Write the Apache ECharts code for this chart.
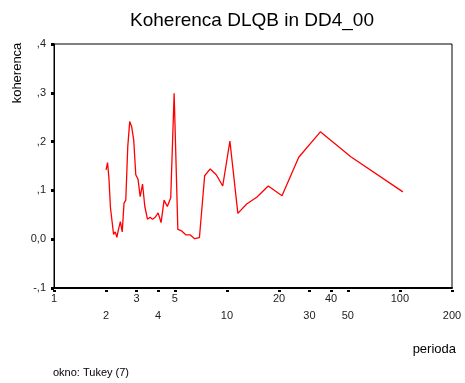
<!DOCTYPE html>
<html>
<head>
<meta charset="utf-8">
<script src="https://cdn.jsdelivr.net/npm/echarts@6/dist/echarts.min.js"></script>
<style>
html,body{margin:0;padding:0;background:#fff;}
#chart{width:465px;height:383px;}
</style>
</head>
<body>
<div id="chart"></div>
<script>
// Periods (x) and coherence values (y)
const periods = [104, 52, 34.67, 26, 20.8, 17.33, 14.86, 13, 11.56, 10.4, 9.45, 8.67, 8, 7.43, 6.93, 6.5, 6.12, 5.78, 5.47, 5.2, 4.95, 4.73, 4.52, 4.33, 4.16, 4, 3.85, 3.71, 3.59, 3.47, 3.35, 3.25, 3.15, 3.06, 2.97, 2.89, 2.81, 2.74, 2.67, 2.6, 2.54, 2.48, 2.42, 2.36, 2.31, 2.26, 2.21, 2.17, 2.12, 2.08, 2.04, 2.0];
const coherence = [0.097, 0.169, 0.220, 0.168, 0.089, 0.109, 0.086, 0.072, 0.053, 0.201, 0.109, 0.132, 0.144, 0.130, 0.003, 0.001, 0.009, 0.009, 0.017, 0.020, 0.299, 0.085, 0.067, 0.080, 0.034, 0.054, 0.045, 0.041, 0.045, 0.041, 0.067, 0.113, 0.087, 0.123, 0.132, 0.203, 0.231, 0.241, 0.190, 0.080, 0.074, 0.015, 0.036, 0.020, 0.004, 0.015, 0.010, 0.007, 0.065, 0.123, 0.157, 0.142];
const xTicks = [1, 2, 3, 4, 5, 10, 20, 30, 40, 50, 100, 200];
const xLabelsRow1 = [1, 3, 5, 20, 40, 100];
const xLabelsRow2 = [2, 4, 10, 30, 50, 200];

const titleText = 'Koherenca DLQB in DD4_00';
const yName = 'koherenca';
const xName = 'perioda';
const footnote = 'okno: Tukey (7)';

const FONT = 'Liberation Sans, Arial, sans-serif';

function yFmt(v) {
  const r = Math.round(v * 10);
  if (r === 0) return '0,0';
  return (r < 0 ? '-' : '') + ',' + Math.abs(r);
}
function xFmt(v) { return String(Math.round(v)); }

const chart = echarts.init(document.getElementById('chart'), null, {renderer: 'canvas'});
const data = periods.map((p, i) => [p, coherence[i]]);

chart.setOption({
  animation: false,
  backgroundColor: '#fff',
  grid: {left: 54, right: 13, top: 44, bottom: 95, show: true, borderColor: '#000', borderWidth: 1, containLabel: false},
  xAxis: [
    {
      type: 'log', logBase: 10, min: 1, max: 200, position: 'bottom',
      axisLine: {show: true, onZero: false, lineStyle: {color: '#000', width: 2}},
      axisTick: {show: false},
      splitLine: {show: false},
      axisLabel: {customValues: xLabelsRow1, formatter: xFmt, margin: 5, fontFamily: FONT, fontSize: 11, color: '#222', showMinLabel: true, showMaxLabel: true}
    },
    {
      type: 'log', logBase: 10, min: 1, max: 200, position: 'bottom', offset: 2,
      axisLine: {show: false, onZero: false},
      axisTick: {show: true, customValues: xTicks, length: 2, lineStyle: {color: '#000', width: 3}},
      splitLine: {show: false},
      axisLabel: {customValues: xLabelsRow2, formatter: xFmt, margin: 20, fontFamily: FONT, fontSize: 11, color: '#222', showMinLabel: true, showMaxLabel: true}
    }
  ],
  yAxis: {
    type: 'value', min: -0.1, max: 0.4, interval: 0.1,
    axisLine: {show: true, onZero: false, lineStyle: {color: '#000', width: 1}},
    axisTick: {show: true, length: 3, lineStyle: {color: '#000', width: 3}},
    splitLine: {show: false},
    axisLabel: {formatter: yFmt, margin: 8, fontFamily: FONT, fontSize: 11, color: '#222'}
  },
  series: [{
    type: 'line', data: data, xAxisIndex: 0,
    showSymbol: false, symbol: 'none',
    lineStyle: {color: '#ff0000', width: 1.3},
    itemStyle: {color: '#ff0000'}
  }],
  graphic: [
    {type: 'text', x: 252, y: 21, style: {text: titleText, fontFamily: FONT, fontSize: 19, fill: '#000', textAlign: 'center', textVerticalAlign: 'middle'}},
    {type: 'text', x: 17, y: 73, rotation: Math.PI / 2, style: {text: yName, fontFamily: FONT, fontSize: 13, fill: '#000', textAlign: 'center', textVerticalAlign: 'middle'}},
    {type: 'text', x: 456, y: 349, style: {text: xName, fontFamily: FONT, fontSize: 13, fill: '#000', textAlign: 'right', textVerticalAlign: 'middle'}},
    {type: 'text', x: 53, y: 373, style: {text: footnote, fontFamily: FONT, fontSize: 11, fill: '#000', textAlign: 'left', textVerticalAlign: 'middle'}}
  ]
});
</script>
</body>
</html>
